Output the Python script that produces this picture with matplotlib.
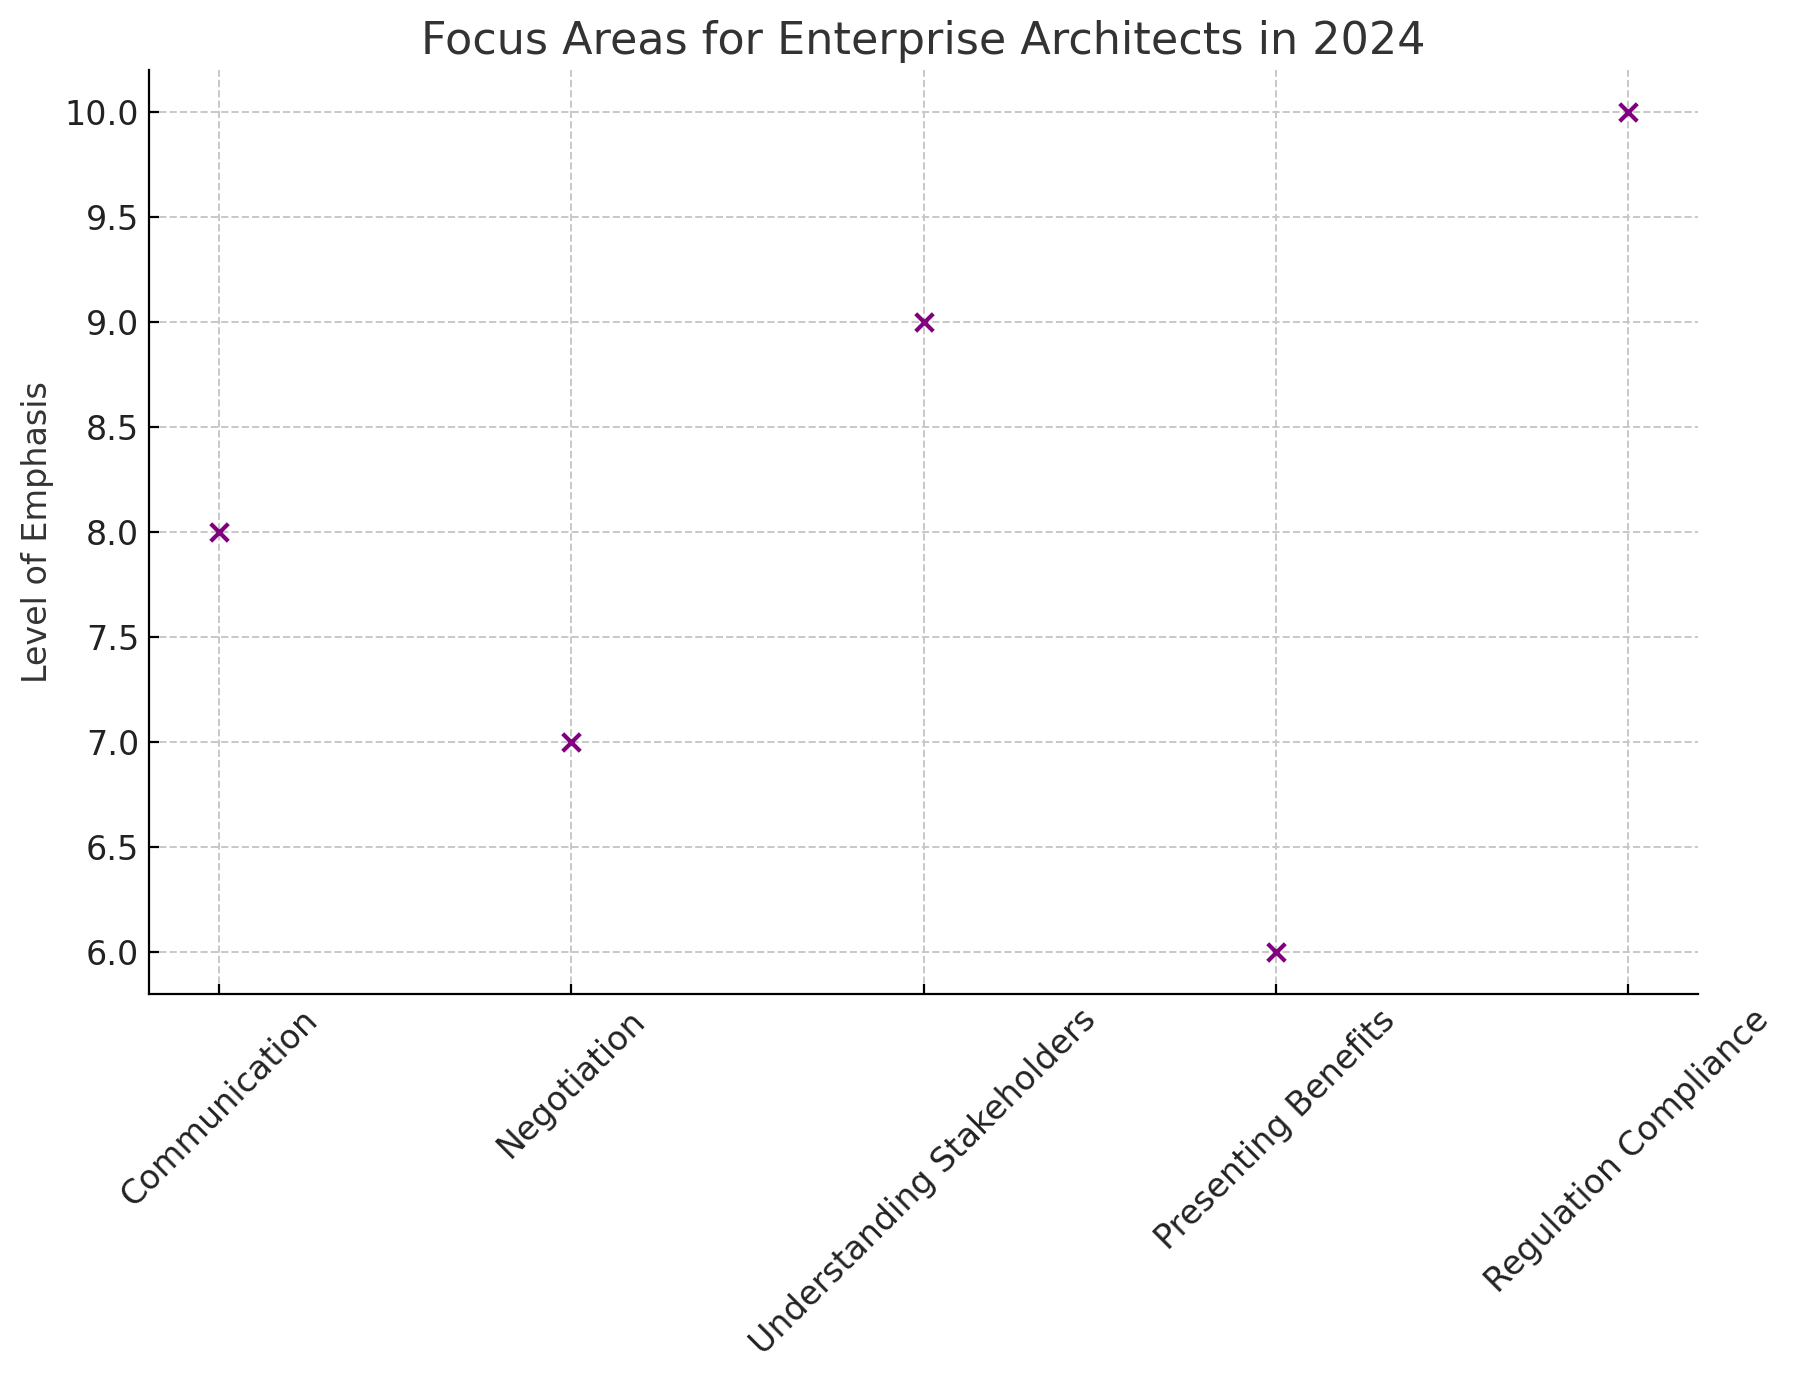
import matplotlib
matplotlib.use("Agg")
from matplotlib import pyplot as plt

areas = ["Communication", "Negotiation", "Understanding Stakeholders",
         "Presenting Benefits", "Regulation Compliance"]
emphasis = [8, 7, 9, 6, 10]

plt.rcParams["text.color"] = "#333333"
plt.rcParams["axes.labelcolor"] = "#333333"

fig, ax = plt.subplots(figsize=(8.975, 6.91), dpi=200)
ax.scatter(areas, emphasis, marker="x", color="purple", s=40, linewidths=1.5, zorder=3)
ax.set_title("Focus Areas for Enterprise Architects in 2024", fontsize=16)
ax.set_ylabel("Level of Emphasis", fontsize=12)
ax.grid(True, linestyle="--", color="#c8c8c8", linewidth=0.7)
ax.spines["top"].set_visible(False)
ax.spines["right"].set_visible(False)
ax.tick_params(labelsize=12, labelcolor="#222222", direction="in")
plt.xticks(rotation=45)
plt.subplots_adjust(left=0.083, right=0.946, top=0.949, bottom=0.281)
plt.savefig("out.png")
